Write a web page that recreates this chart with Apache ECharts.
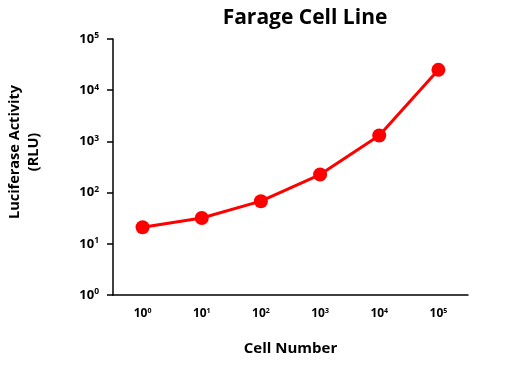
<!DOCTYPE html>
<html><head><meta charset="utf-8">
<script src="https://cdn.jsdelivr.net/npm/echarts@6/dist/echarts.min.js"></script>
<style>html,body{margin:0;padding:0;background:#fff}#c{width:510px;height:382px}</style>
</head><body><div id="c"></div>
<script>
var titleText = 'Farage Cell Line';
var xAxisTitle = 'Cell Number';
var yAxisTitle = 'Luciferase Activity\n(RLU)';
var xExponents = ['0', '1', '2', '3', '4', '5'];
var luciferase = [21, 32, 68, 225, 1300, 25000];
var yMin = 1, yMax = 100000;

var font = 'Open Sans';
var chart = echarts.init(document.getElementById('c'));
function pow10(exp) { return '{b|10}{s|' + exp + '}'; }
function rich(size, sup) {
  return {
    b: { fontFamily: font, fontWeight: 'bold', fontSize: size, color: '#000' },
    s: { fontFamily: font, fontWeight: 'bold', fontSize: sup, color: '#000', verticalAlign: 'top', padding: [0, 0, 6, 0] }
  };
}
chart.setOption({
  animation: false,
  title: {
    text: titleText, left: 300, top: 3, textAlign: 'center',
    textStyle: { fontFamily: font, fontWeight: 'bold', fontSize: 21, color: '#000' }
  },
  graphic: [{
    type: 'text', x: 24, y: 152, rotation: Math.PI / 2,
    style: {
      text: yAxisTitle, align: 'center', verticalAlign: 'middle',
      fontFamily: font, fontWeight: 'bold', fontSize: 14.5, lineHeight: 19, fill: '#000'
    }
  }],
  grid: { left: 113, top: 39, right: 42, bottom: 87 },
  xAxis: {
    type: 'category',
    data: xExponents,
    boundaryGap: true,
    name: xAxisTitle, nameLocation: 'middle', nameGap: 46,
    nameTextStyle: { fontFamily: font, fontWeight: 'bold', fontSize: 15, color: '#000' },
    axisLine: { lineStyle: { color: '#000', width: 1.5 } },
    axisTick: { alignWithLabel: true, length: 5, lineStyle: { color: '#000', width: 1.5 } },
    axisLabel: { interval: 0, margin: 12, formatter: function (v) { return pow10(v); }, rich: rich(12, 7) }
  },
  yAxis: {
    type: 'log', logBase: 10, min: yMin, max: yMax,
    axisLine: { show: true, lineStyle: { color: '#000', width: 1.5 } },
    axisTick: { show: true, length: 6, lineStyle: { color: '#000', width: 1.5 } },
    splitLine: { show: false },
    minorTick: { show: false },
    axisLabel: { margin: 14, formatter: function (v) { return pow10(Math.round(Math.log10(v))); }, rich: rich(13, 8.5) }
  },
  series: [{
    type: 'line',
    data: luciferase,
    symbol: 'circle', symbolSize: 14,
    lineStyle: { color: '#ff0000', width: 3 },
    itemStyle: { color: '#ff0000' }
  }]
});
</script></body></html>
